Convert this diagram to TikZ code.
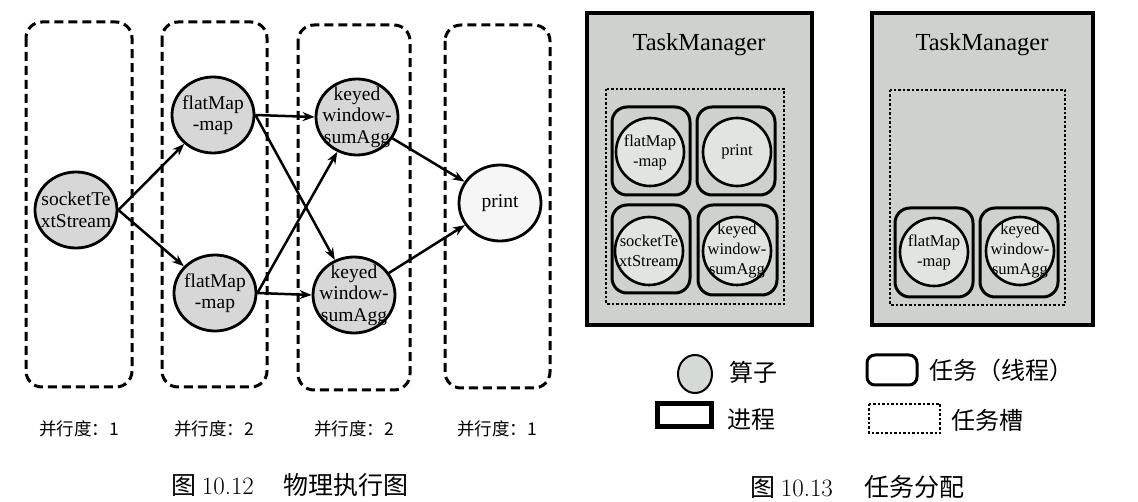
\documentclass[tikz,border=0pt]{standalone}
\usepackage{fontspec}
\newfontfamily\tnr{Liberation Serif}
\newfontfamily\cjk{Noto Sans CJK SC}
\usetikzlibrary{shapes.geometric,arrows.meta}
\definecolor{opgray}{RGB}{214,215,214}
\definecolor{prgray}{RGB}{246,246,246}
\definecolor{tmgray}{RGB}{207,209,207}
\definecolor{tmop}{RGB}{226,228,226}
\definecolor{leggray}{RGB}{212,219,212}
\begin{document}
\begin{tikzpicture}[x=1pt,y=-1pt,
  lane/.style={draw,line width=3pt,dash pattern=on 9pt off 5pt,rounded corners=16pt},
  op/.style={ellipse,draw,line width=2.8pt,fill=opgray,minimum width=82pt,minimum height=76pt,inner sep=0pt},
  optext/.style={align=center,font=\tnr\fontsize{19.5}{21.5}\selectfont,inner sep=0pt},
  flow/.style={line width=2.5pt,-{Stealth[length=12pt,width=9pt]}},
  partext/.style={font=\cjk\fontsize{17.5}{20}\selectfont},
  captext/.style={anchor=west,font=\cjk\fontsize{25}{28}\selectfont,inner sep=0pt},
  proc/.style={draw,line width=4.5pt,fill=tmgray},
  tmtitle/.style={font=\tnr\fontsize{24.5}{28}\selectfont},
  slot/.style={draw,line width=2.8pt,dash pattern=on 2.5pt off 2pt},
  task/.style={draw,line width=3pt,rounded corners=15pt},
  tmc/.style={circle,draw,line width=2.6pt,fill=tmop,minimum size=68pt,inner sep=0pt},
  tmtext/.style={align=center,font=\tnr\fontsize{16.5}{20}\selectfont,inner sep=0pt},
  legtext/.style={anchor=west,font=\cjk\fontsize{24}{28}\selectfont,inner sep=0pt}
]
\fill[white] (0,0) rectangle (1138,502);
\useasboundingbox (0,0) rectangle (1138,502);

% ---------- left: physical execution graph ----------
\draw[lane] (26,22) rectangle (132,387);
\draw[lane] (162,22) rectangle (267,387);
\draw[lane] (298,25) rectangle (410,390);
\draw[lane] (445,25) rectangle (550,388);

\node[op,label={[optext]center:{socketTe\\xtStream}}] (sock) at (76,210) {};
\node[op,label={[optext]center:{flatMap\\-map}}] (fm1) at (213,115) {};
\node[op,label={[optext]center:{flatMap\\-map}}] (fm2) at (215,293) {};
\node[op,label={[optext]center:{keyed\\window-\\sumAgg}}] (kw1) at (357,117) {};
\node[op,label={[optext]center:{keyed\\window-\\sumAgg}}] (kw2) at (354,295) {};
\node[op,fill=prgray,label={[optext]center:{print}}] (pr) at (500,203) {};

\draw[flow] (sock.east) -- (fm1);
\draw[flow] (sock.east) -- (fm2);
\draw[flow] (fm1.east) -- (kw1.west);
\draw[flow] (fm1.east) -- (kw2);
\draw[flow] (fm2.east) -- (kw1);
\draw[flow] (fm2.east) -- (kw2.west);
\draw[flow] (kw1) -- (pr);
\draw[flow] (kw2) -- (pr);

\node[partext] (p1) at (79,429) {并行度：1};
\node[partext] (p2) at (214,429) {并行度：2};
\node[partext] (p3) at (354,429) {并行度：2};
\node[partext] (p4) at (497,429) {并行度：1};

\node[captext] (cap1) at (171,485) {图 {\rmfamily 10.12}\hspace{30pt}物理执行图};

% ---------- right: task assignment ----------
\draw[proc] (587,13) rectangle (812,325);
\node[tmtitle] (t1) at (699,45) {TaskManager};
\draw[slot] (606,89) rectangle (784,304);
\draw[task] (612,107) rectangle (690,195);
\draw[task] (697,107) rectangle (775,195);
\draw[task] (612,205) rectangle (690,293);
\draw[task] (698,205) rectangle (777,295);
\node[tmc,label={[tmtext]center:{flatMap\\-map}}] (a1) at (650,152) {};
\node[tmc,label={[tmtext]center:{print}}] (a2) at (737,152) {};
\node[tmc,label={[tmtext]center:{socketTe\\xtStream}}] (a3) at (649,251) {};
\node[tmc,label={[tmtext]center:{keyed\\window-\\sumAgg}}] (a4) at (737,251) {};

\draw[proc] (872,13) rectangle (1093,325);
\node[tmtitle] (t2) at (982,45) {TaskManager};
\draw[slot] (890,90) rectangle (1065,305);
\draw[task] (895,208) rectangle (973,297);
\draw[task] (980,208) rectangle (1058,297);
\node[tmc,label={[tmtext]center:{flatMap\\-map}}] (b1) at (934,252) {};
\node[tmc,label={[tmtext]center:{keyed\\window-\\sumAgg}}] (b2) at (1020,251) {};

% ---------- legend ----------
\node[ellipse,draw,line width=2pt,fill=leggray,minimum width=34pt,minimum height=38pt,inner sep=0pt] (lop) at (695,374) {};
\node[legtext] (lopt) at (729,372) {算子};
\draw[task,rounded corners=8pt] (867,355) rectangle (917,385);
\node[legtext] (ltask) at (929,370) {任务（线程）};
\draw[line width=5pt] (657,404) rectangle (711,427);
\node[legtext] (lproc) at (727,420) {进程};
\draw[slot] (869,404) rectangle (940,433);
\node[legtext] (lslot) at (951,420) {任务槽};

\node[captext] (cap2) at (750,487) {图 {\rmfamily 10.13}\hspace{32pt}任务分配};
\end{tikzpicture}
\end{document}
